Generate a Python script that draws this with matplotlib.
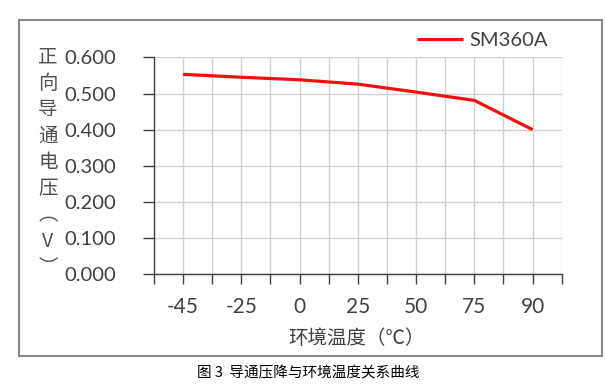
import numpy as np
import matplotlib.pyplot as plt
from matplotlib.patches import Rectangle

temps = ["-45", "-25", "0", "25", "50", "75", "90"]
vf = [0.553, 0.545, 0.538, 0.526, 0.504, 0.481, 0.400]
series_name = "SM360A"
y_ticks = [0.0, 0.1, 0.2, 0.3, 0.4, 0.5, 0.6]
y_label_chars = ["正", "向", "导", "通", "电", "压", "︵", "V", "︶"]
x_label = "环境温度（℃）"
caption = "图 3  导通压降与环境温度关系曲线"

plt.rcParams['font.family'] = ['Lato', 'Noto Sans CJK SC', 'DejaVu Sans']
txt = "#404040"

fig = plt.figure(figsize=(6.06, 3.85), dpi=100)
ax = fig.add_axes([0.254, 0.2875, 0.673, 0.5635])

x = np.arange(len(temps))
ax.plot(x, vf, color="#f01010", lw=2.3, solid_capstyle="butt", label=series_name, zorder=3)

ax.set_xlim(-0.5, len(temps) - 0.5)
ax.set_ylim(0, 0.6)

# ticks / grid (excel style: grid on and between categories)
ax.set_xticks(x)
ax.set_xticklabels(temps)
ax.set_xticks(np.arange(-0.5, len(temps), 1.0), minor=True)
ax.tick_params(axis="x", which="both", length=7, width=1, color="#404040", direction="out")
ax.tick_params(axis="x", which="major", pad=9, labelsize=15, labelcolor=txt)
ax.set_yticks(y_ticks)
ax.set_yticklabels([f"{v:.3f}" for v in y_ticks])
ax.tick_params(axis="y", length=8, width=1, color="#404040", pad=19, labelsize=14.5, labelcolor=txt)
ax.grid(True, which="both", color="#d0d0d0", lw=1)
ax.grid(False, which="minor", axis="y")
ax.set_axisbelow(True)

for s in ["top", "right"]:
    ax.spines[s].set_visible(False)
for s in ["left", "bottom"]:
    ax.spines[s].set_color("#404040")
    ax.spines[s].set_linewidth(1)

ax.legend(loc="center right", bbox_to_anchor=(0.965, 1.08), frameon=False,
          fontsize=14.5, handlelength=2.3, handletextpad=0.3, labelcolor=txt, borderpad=0,
          borderaxespad=0)

# vertical y label
ys = np.linspace(0.852, 0.305, len(y_label_chars))
for ch, yy in zip(y_label_chars, ys):
    fig.text(0.079, yy, ch, ha="center", va="center", fontsize=14, color="#505050",
             family=["Noto Sans CJK SC", "DejaVu Sans"])

fig.text(0.588, 0.122, x_label, ha="center", va="center", fontsize=14, color=txt,
         family=["Noto Sans CJK SC", "DejaVu Sans"])

# outer chart frame
fig.patches.append(Rectangle((0.032, 0.075), 0.961, 0.873, transform=fig.transFigure,
                             fill=False, edgecolor="#8a8a8a", lw=1.5))

fig.text(0.508, 0.03, caption, ha="center", va="center", fontsize=10.5, color="black",
         family=["Noto Sans CJK SC", "DejaVu Sans"])

fig.savefig("out.png", dpi=100)
